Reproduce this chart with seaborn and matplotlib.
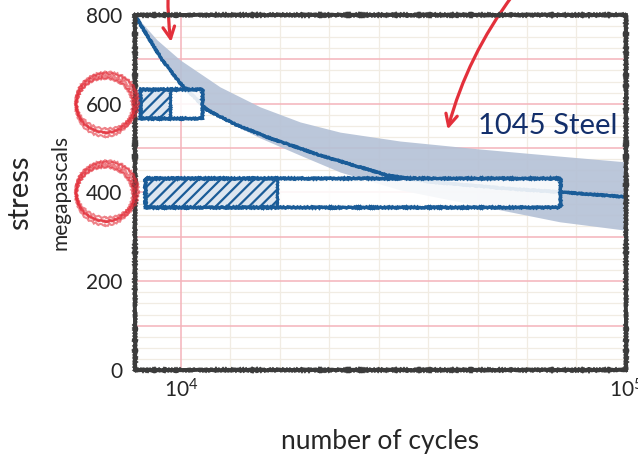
import matplotlib
matplotlib.use("Agg")
import matplotlib.pyplot as plt
import seaborn as sns
import pandas as pd
from matplotlib.patches import Ellipse

# S-N curve for 1045 steel (cycles to failure vs. stress amplitude, MPa)
cycles = [700, 1900, 3700, 6200, 9800, 15300, 20900, 27400, 38100,
          51700, 60400, 74500, 86600, 100000]
stress = [800, 777, 744, 699, 647, 586, 554, 525, 484,
          439, 424, 410, 401, 390]

# scatter band around the curve
band_cycles = [700, 5150, 9800, 17900, 26000, 34100, 42200, 54300, 70500, 86600, 100000]
band_upper = [800, 744, 699, 638, 593, 559, 536, 516, 498, 482, 469]
band_lower = [795, 717, 642, 568, 523, 484, 446, 406, 370, 334, 315]

# test blocks: stress level, start, end of hatched part, end of block
block_stress = [600, 400]
block_start = [1700, 2700]
block_hatched_end = [7800, 29400]
block_end = [14300, 86600]

y_ticks = [0, 200, 400, 600, 800]
x_ticks = [10000, 100000]
x_tick_labels = ["$10^4$", "$10^5$"]
circled_ticks = [600, 400]

sns.set_theme(style="white")
plt.rcParams["font.family"] = ["Lato", "DejaVu Sans"]
plt.rcParams["mathtext.default"] = "regular"
plt.rcParams["hatch.linewidth"] = 1.6

BLUE = "#1a5c98"
NAVY = "#132f6b"
PINK = "#f4b3bb"
RED = "#e3303b"
FRAME = "#3b3b3b"

fig, ax = plt.subplots(figsize=(6.38, 4.57), dpi=100)
fig.subplots_adjust(left=0.2116, right=0.981, bottom=0.1904, top=0.9672)

ax.set_xlim(700, 100000)
ax.set_ylim(0, 800)

# notebook-paper grid
for v in range(25, 800, 25):
    if v % 100:
        ax.axhline(v, color="#f1ece3", lw=0.9, zorder=0)
for v in range(20000, 100000, 10000):
    ax.axvline(v, color="#f1ece3", lw=0.9, zorder=0)
for v in range(100, 800, 100):
    ax.axhline(v, color=PINK, lw=1.1, zorder=0.5)
ax.axvline(10000, color=PINK, lw=1.1, zorder=0.5)

# scatter band
ax.fill_between(band_cycles, band_lower, band_upper, color="#b4c1d6",
                alpha=0.9, lw=0, zorder=1)

# S-N curve
df = pd.DataFrame({"cycles": cycles, "stress": stress})
sns.lineplot(data=df, x="cycles", y="stress", ax=ax, color=BLUE, lw=2.4,
             sort=False, zorder=2)
ax.lines[-1].set_sketch_params(0.6, 3, 2)

# test blocks
h = 66
for s, a, m, b in zip(block_stress, block_start, block_hatched_end, block_end):
    ax.barh(s, b - a, left=a, height=h, color="white", alpha=0.88,
            lw=0, zorder=3)
    hatched = ax.barh(s, m - a, left=a, height=h, color="#dde6f0",
                      edgecolor=BLUE, hatch="///", lw=2.0, zorder=4)
    edge = ax.barh(s, b - a, left=a, height=h, fill=False,
                   edgecolor=BLUE, lw=2.5, zorder=5)
    for p in list(hatched) + list(edge):
        p.set_sketch_params(0.6, 3, 2)

# frame
for sp in ax.spines.values():
    sp.set_color(FRAME)
    sp.set_linewidth(2.8)
    sp.set_sketch_params(0.7, 3, 2)
    sp.set_zorder(6)

ax.set_yticks(y_ticks)
ax.set_xticks(x_ticks)
ax.set_xticklabels(x_tick_labels)
ax.tick_params(axis="y", length=0, pad=9, labelsize=15)
ax.tick_params(axis="x", length=0, pad=6, labelsize=15)

ax.set_xlabel("number of cycles", fontsize=19, labelpad=20)
ax.set_ylabel("stress", fontsize=21, labelpad=38)
ax.text(-0.152, 0.5, "megapascals", transform=ax.transAxes, rotation=90,
        ha="center", va="center", fontsize=15)

# red circles around selected tick labels
ytr = ax.get_yaxis_transform()
loops = [(0.000, 0, 0.000, 0), (0.008, 8, 0.003, 3), (-0.006, -6, -0.002, -4),
         (0.004, -3, 0.002, 6), (-0.002, 5, -0.001, -7)]
for v in circled_ticks:
    for dw, dh, dx, dy in loops:
        e = Ellipse((-0.06 + dx, v + dy), 0.12 + dw, 128 + dh,
                    transform=ytr, fill=False, edgecolor=RED, lw=1.5,
                    alpha=0.6, clip_on=False, zorder=7)
        e.set_sketch_params(0.8, 4, 2)
        ax.add_patch(e)

# annotation arrows
arrow_style = "->,head_length=0.7,head_width=0.35"
ax.annotate("", xy=(8100, 733), xytext=(7400, 850), annotation_clip=False,
            arrowprops=dict(arrowstyle=arrow_style, color=RED, lw=2.3,
                            connectionstyle="arc3,rad=0.05"))
ax.annotate("", xy=(63800, 536), xytext=(77500, 850), annotation_clip=False,
            arrowprops=dict(arrowstyle=arrow_style, color=RED, lw=2.3,
                            connectionstyle="arc3,rad=0.1"))

ax.text(84200, 550, "1045 Steel", color=NAVY, fontsize=21, ha="center",
        va="center", zorder=8)

fig.savefig("out.png", dpi=100, facecolor="white")
